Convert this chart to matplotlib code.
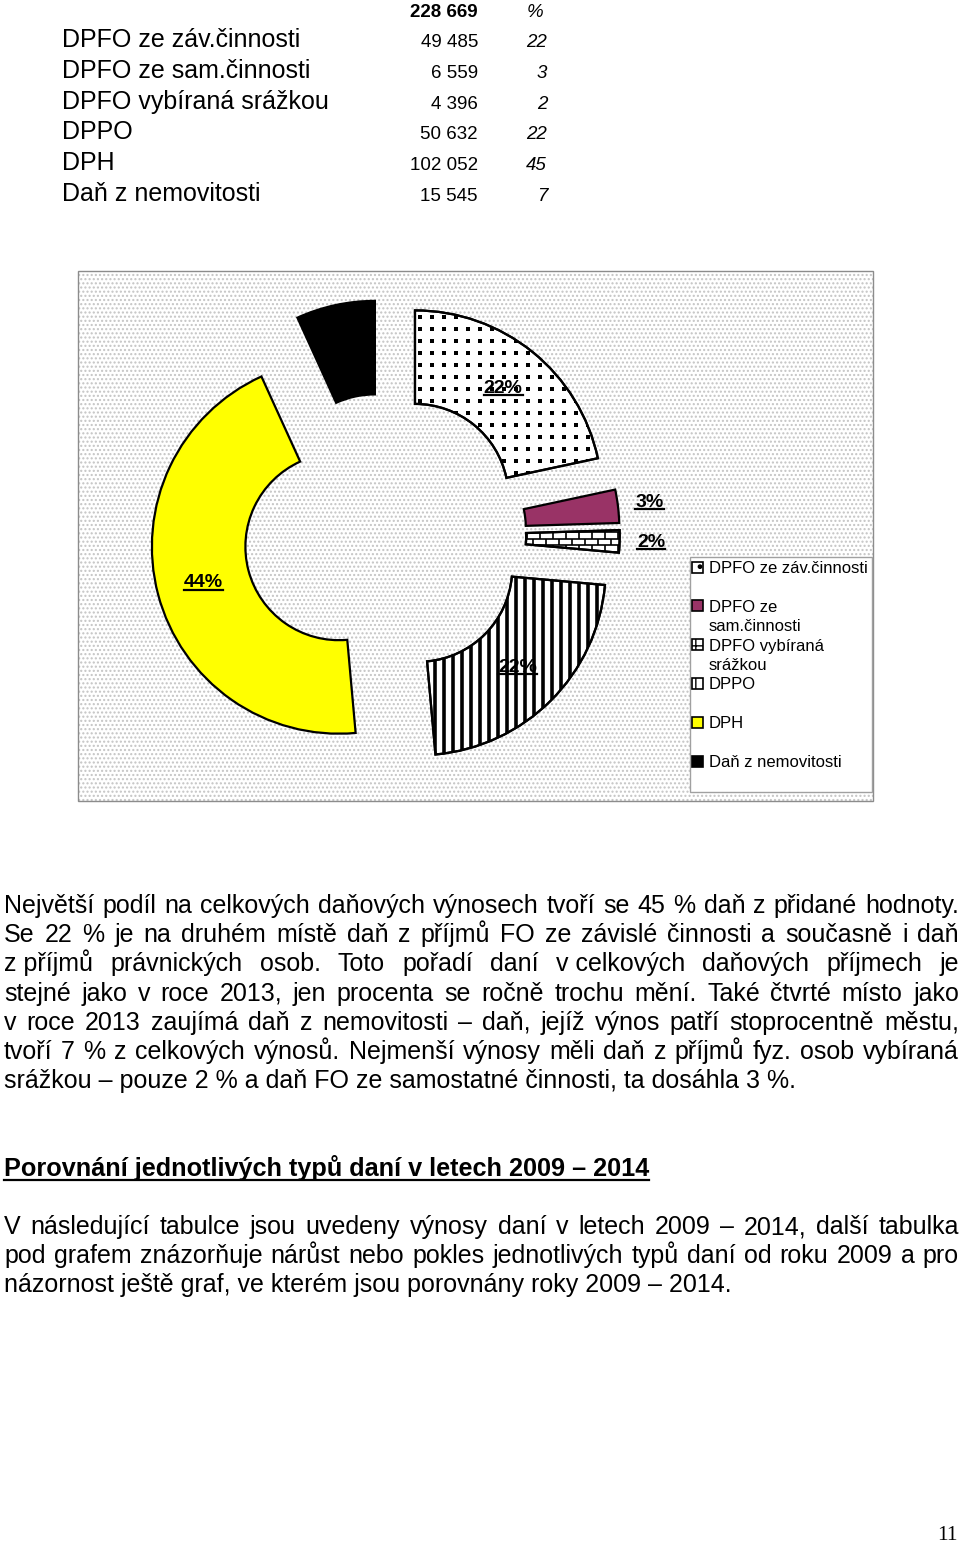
import numpy as np
import matplotlib
matplotlib.use("Agg")
import matplotlib.pyplot as plt
from matplotlib.patches import Rectangle, Wedge
from matplotlib.lines import Line2D
from matplotlib.collections import LineCollection

plt.rcParams['font.family'] = ['Liberation Sans', 'DejaVu Sans']

# tax revenues 2014 (thousand CZK)
tax_names = ["DPFO ze záv.činnosti", "DPFO ze sam.činnosti", "DPFO vybíraná srážkou",
             "DPPO", "DPH", "Daň z nemovitosti"]
tax_amounts = [49485, 6559, 4396, 50632, 102052, 15545]
tax_pct = [22, 3, 2, 22, 45, 7]

# labels as printed in the doughnut chart
chart_labels = ["22%", "3%", "2%", "22%", "44%", "7%"]
legend_labels = ["DPFO ze záv.činnosti", "DPFO ze\nsam.činnosti", "DPFO vybíraná\nsrážkou",
                 "DPPO", "DPH", "Daň z nemovitosti"]
colors = ["white", "#993366", "white", "white", "#FFFF00", "black"]
patterns = ["dots", None, "bricks", "stripes", None, None]
legend_hatch = {"dots": ".", "bricks": "++", "stripes": "||", None: None}

para1 = [
    "Největší podíl na celkových daňových výnosech tvoří se 45 % daň z přidané hodnoty.",
    "Se 22 % je na druhém místě daň z příjmů FO ze závislé činnosti a současně i daň",
    "z\u00a0příjmů právnických osob. Toto pořadí daní v\u00a0celkových daňových příjmech je",
    "stejné jako v roce 2013, jen procenta se ročně trochu mění. Také čtvrté místo jako",
    "v roce 2013 zaujímá daň z nemovitosti – daň, jejíž výnos patří stoprocentně městu,",
    "tvoří 7 % z celkových výnosů. Nejmenší výnosy měli daň z příjmů fyz. osob vybíraná",
    "srážkou – pouze 2 % a daň FO ze samostatné činnosti, ta dosáhla 3 %.",
]
heading = "Porovnání jednotlivých typů daní v letech 2009 – 2014"
para2 = [
    "V následující tabulce jsou uvedeny výnosy daní v letech 2009 – 2014, další tabulka",
    "pod grafem znázorňuje nárůst nebo pokles jednotlivých typů daní od roku 2009 a pro",
    "názornost ještě graf, ve kterém jsou porovnány roky 2009 – 2014.",
]

W, H = 960, 1543
fig = plt.figure(figsize=(W / 100, H / 100), dpi=100)
page = fig.add_axes([0, 0, 1, 1])
page.set_xlim(0, W)
page.set_ylim(H, 0)
page.axis('off')
rend = fig.canvas.get_renderer()


def fmt(v):
    return f"{v:,}".replace(",", " ")


# --- table on top of the page
page.text(478, 17, fmt(sum(tax_amounts)), fontsize=13.5, fontweight='bold', ha='right', va='baseline')
page.text(543, 17, "%", fontsize=13.5, style='italic', ha='right', va='baseline')
for i, (n, a, p) in enumerate(zip(tax_names, tax_amounts, tax_pct)):
    y = 47 + i * 30.8
    page.text(62, y, n, fontsize=18, va='baseline')
    page.text(478, y, fmt(a), fontsize=13.5, ha='right', va='baseline')
    page.text(547, y, str(p), fontsize=13.5, style='italic', ha='right', va='baseline')

# --- chart frame with dotted background
fx0, fy0, fx1, fy1 = 78, 271, 873, 801
page.add_patch(Rectangle((fx0, fy0), fx1 - fx0, fy1 - fy0, facecolor='white', edgecolor='none', zorder=0))
page.add_patch(Rectangle((fx0, fy0), fx1 - fx0, fy1 - fy0, facecolor='none', edgecolor='#c4c4c4',
                         lw=0, hatch='....', zorder=0.5))
page.add_patch(Rectangle((fx0, fy0), fx1 - fx0, fy1 - fy0, facecolor='none', edgecolor='#8c8c8c',
                         lw=1, zorder=0.6))

# --- exploded doughnut
R = 187.0
cx, cy = 385, 534.5
ax = fig.add_axes([fx0 / W, 1 - fy1 / H, (fx1 - fx0) / W, (fy1 - fy0) / H], zorder=1)
ax.set_facecolor('none')
wedges, _ = ax.pie(tax_amounts, explode=[0.255] * len(tax_amounts), startangle=90,
                   counterclock=False, colors=colors,
                   wedgeprops=dict(width=0.5, edgecolor='black', linewidth=1.6))
ax.set_aspect('auto')
ax.set_xlim((fx0 - cx) / R, (fx1 - cx) / R)
ax.set_ylim((cy - fy1) / R, (cy - fy0) / R)
ax.axis('off')

# fill patterns, clipped to the wedges
px = 1 / R
for w, pat in zip(wedges, patterns):
    if not pat:
        continue
    ext = w.get_path().get_extents()
    x0, x1, y0, y1 = ext.x0 - 0.1, ext.x1 + 0.1, ext.y0 - 0.1, ext.y1 + 0.1
    if pat == "dots":
        gx, gy = np.meshgrid(np.arange(x0, x1, 12 * px), np.arange(y0, y1, 12 * px))
        art = ax.scatter(gx.ravel(), gy.ravel(), s=5, marker='s', color='black',
                         linewidths=0, zorder=3)
    elif pat == "stripes":
        segs = [[(x, y0), (x, y1)] for x in np.arange(x0, x1, 9 * px)]
        art = LineCollection(segs, colors='black', linewidths=2.6, zorder=3)
        ax.add_collection(art)
    else:
        bh, bw = 6.5 * px, 13 * px
        rows = np.arange(y0, y1, bh)
        segs = [[(x0, y), (x1, y)] for y in rows]
        for k, y in enumerate(rows):
            for x in np.arange(x0 + (k % 2) * bw / 2, x1, bw):
                segs.append([(x, y), (x, y + bh)])
        art = LineCollection(segs, colors='black', linewidths=1.2, zorder=3)
        ax.add_collection(art)
    art.set_clip_path(w)
    ax.add_patch(Wedge(w.center, w.r, w.theta1, w.theta2, width=w.width, fill=False,
                       edgecolor='black', lw=1.6, zorder=4))

inv = ax.transData.inverted()
for w, lab, pct in zip(wedges, chart_labels, tax_pct):
    mid = np.deg2rad((w.theta1 + w.theta2) / 2)
    rr = 0.75 if pct >= 5 else 1.17
    x = w.center[0] + rr * np.cos(mid)
    y = w.center[1] + rr * np.sin(mid)
    t = ax.text(x, y, lab, fontsize=14, fontweight='bold', ha='center', va='center', zorder=10)
    bb = t.get_window_extent(rend)
    p0 = inv.transform((bb.x0, bb.y0 + 1.5))
    p1 = inv.transform((bb.x1, bb.y0 + 1.5))
    ax.add_line(Line2D([p0[0], p1[0]], [p0[1], p1[1]], color='black', lw=1.6, zorder=10))

# --- legend
lx0, ly0, lx1, ly1 = 690, 557, 872, 792
page.add_patch(Rectangle((lx0, ly0), lx1 - lx0, ly1 - ly0, facecolor='white', edgecolor='#a0a0a0',
                         lw=1, zorder=2))
for i, (lab, col, pat) in enumerate(zip(legend_labels, colors, patterns)):
    yc = 567 + i * 38.8
    page.add_patch(Rectangle((692, yc - 5.5), 11, 11, facecolor=col, edgecolor='black',
                             hatch=legend_hatch[pat], lw=1.2, zorder=3))
    for k, line in enumerate(lab.split('\n')):
        page.text(709, yc + 6 + k * 19.5, line, fontsize=12, va='baseline', zorder=3)


# --- justified body text
def paragraph(lines, y0, x_left=4, x_right=959, lh=29.2, size=18):
    for i, line in enumerate(lines):
        y = y0 + i * lh
        if i == len(lines) - 1:
            page.text(x_left, y, line.replace('\u00a0', ' '), fontsize=size, va='baseline')
            continue
        words = [wd.replace('\u00a0', ' ') for wd in line.split(' ')]
        texts = [page.text(0, y, wd, fontsize=size, va='baseline') for wd in words]
        widths = [t.get_window_extent(rend).width for t in texts]
        gap = (x_right - x_left - sum(widths)) / (len(words) - 1)
        x = x_left
        for t, wd in zip(texts, widths):
            t.set_x(x)
            x += wd + gap


paragraph(para1, 913)
ht = page.text(4, 1176, heading, fontsize=18.2, fontweight='bold', va='baseline')
hb = ht.get_window_extent(rend)
page.plot([4, 4 + hb.width], [1179.5, 1179.5], color='black', lw=1.6)
paragraph(para2, 1234)

page.text(958, 1540, "11", fontsize=15.5, family='Liberation Serif', ha='right', va='baseline')

fig.savefig("out.png", dpi=100)
